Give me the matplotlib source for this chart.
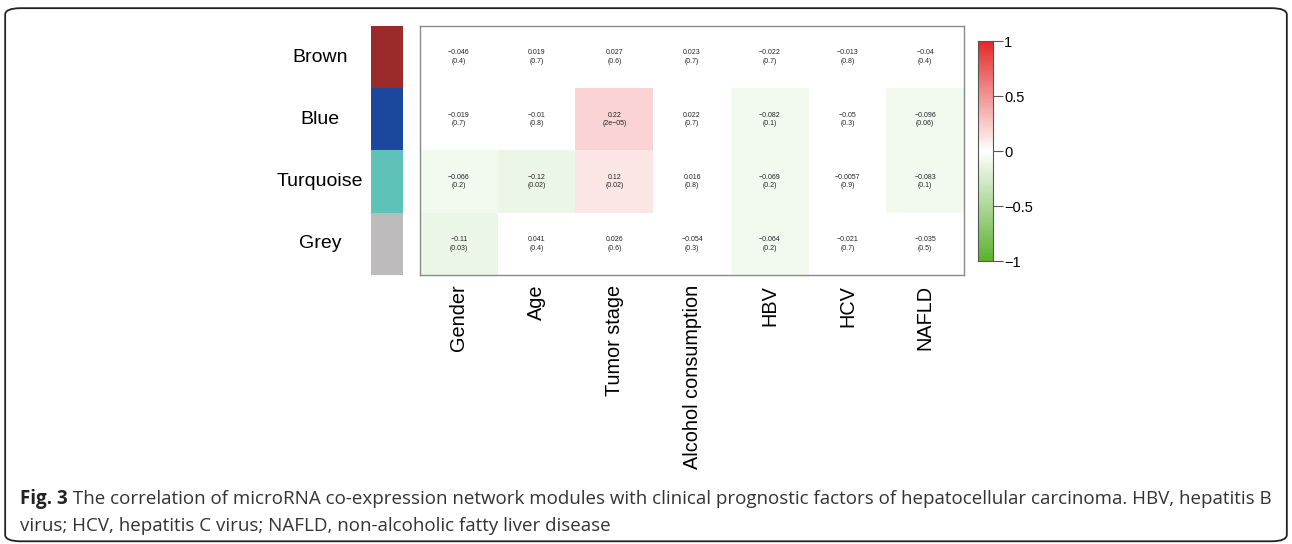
import numpy as np
import matplotlib
matplotlib.use("Agg")
import matplotlib.pyplot as plt
from matplotlib.colors import LinearSegmentedColormap, ListedColormap, BoundaryNorm
from matplotlib.patches import FancyBboxPatch

# Module-trait correlations (rows: modules, cols: clinical traits)
modules = ["Brown", "Blue", "Turquoise", "Grey"]
module_colors = ["#9b2b2b", "#1b479c", "#5ec2b8", "#bdbbbc"]
traits = ["Gender", "Age", "Tumor stage", "Alcohol consumption", "HBV", "HCV", "NAFLD"]

cor = [
    [-0.046, 0.019, 0.027, 0.023, -0.022, -0.013, -0.04],
    [-0.019, -0.01, 0.22, 0.022, -0.082, -0.05, -0.096],
    [-0.066, -0.12, 0.12, 0.016, -0.069, -0.0057, -0.083],
    [-0.11, 0.041, 0.026, -0.054, -0.064, -0.021, -0.035],
]
pvals = [
    ["0.4", "0.7", "0.6", "0.7", "0.7", "0.8", "0.4"],
    ["0.7", "0.8", "2e\u221205", "0.7", "0.1", "0.3", "0.06"],
    ["0.2", "0.02", "0.02", "0.8", "0.2", "0.9", "0.1"],
    ["0.03", "0.4", "0.6", "0.3", "0.2", "0.7", "0.5"],
]

caption_bold = "Fig. 3"
caption_1 = (" The correlation of microRNA co-expression network modules with clinical "
             "prognostic factors of hepatocellular carcinoma. HBV, hepatitis B")
caption_2 = "virus; HCV, hepatitis C virus; NAFLD, non-alcoholic fatty liver disease"

plt.rcParams["font.family"] = ["Liberation Sans", "DejaVu Sans"]

# green - white - red scale; cells use binned colours (step 0.04, white around zero)
base = LinearSegmentedColormap.from_list("gwr", ["#5cb131", "#ffffff", "#e52a2a"], N=256)
edges = np.concatenate([[-1.0], np.arange(-0.98, 0.99, 0.04), [1.0]])
centers = (edges[:-1] + edges[1:]) / 2
bin_colors = [(1, 1, 1, 1) if abs(c) < 0.05 else base((c + 1) / 2) for c in centers]
cell_cmap = ListedColormap(bin_colors)
cell_norm = BoundaryNorm(edges, cell_cmap.N)

fig = plt.figure(figsize=(12.92, 5.44), dpi=100)

# heatmap
ax = fig.add_axes([0.3251, 0.4945, 0.4211, 0.4577])
data = np.array(cor)
ax.pcolormesh(data, cmap=cell_cmap, norm=cell_norm)
ax.set_xlim(0, len(traits))
ax.set_ylim(len(modules), 0)
for i in range(len(modules)):
    for j in range(len(traits)):
        ax.text(j + 0.5, i + 0.5, f"{cor[i][j]:g}".replace("-", "\u2212") + f"\n({pvals[i][j]})",
                ha="center", va="center", fontsize=5, color="#222222", linespacing=1.3)
ax.set_xticks(np.arange(len(traits)) + 0.5)
ax.set_xticklabels(traits, rotation=90, fontsize=14.3)
ax.tick_params(axis="x", length=0, pad=7)
ax.set_yticks([])
for s in ax.spines.values():
    s.set_color("#8a8a8a")
    s.set_linewidth(1.0)

# module color strip
ax_m = fig.add_axes([0.2872, 0.4945, 0.0248, 0.4577])
ax_m.pcolormesh(np.arange(len(modules)).reshape(-1, 1),
                cmap=ListedColormap(module_colors), vmin=-0.5, vmax=len(modules) - 0.5)
ax_m.set_ylim(len(modules), 0)
ax_m.set_xticks([])
ax_m.set_yticks([])
for s in ax_m.spines.values():
    s.set_visible(False)
for i, name in enumerate(modules):
    ax_m.text(-1.6, i + 0.5, name, transform=ax_m.get_yaxis_transform(),
              ha="center", va="center", fontsize=14)

# colorbar
ax_c = fig.add_axes([0.757, 0.5202, 0.0114, 0.4044])
grad = np.linspace(-1, 1, 200).reshape(-1, 1)
ax_c.pcolormesh([0, 1], np.linspace(-1, 1, 201), grad, cmap=base, vmin=-1, vmax=1)
ax_c.set_ylim(-1, 1)
ax_c.set_xticks([])
ax_c.yaxis.tick_right()
ax_c.set_yticks([1, 0.5, 0, -0.5, -1])
ax_c.set_yticklabels(["1", "0.5", "0", "\u22120.5", "\u22121"], fontsize=10.5)
ax_c.tick_params(axis="y", length=7, width=0.8, color="#555555", pad=1)
for s in ax_c.spines.values():
    s.set_color("#555555")
    s.set_linewidth(0.8)

# caption
cap_font = ["Open Sans", "DejaVu Sans"]
cap_size = 13.5
t = fig.text(0.0155, 0.0735, caption_bold, fontsize=cap_size, fontweight="bold",
             family=cap_font, color="#222222", va="baseline")
fig.canvas.draw()
bb = t.get_window_extent()
fig.text(bb.x1 / fig.bbox.width, 0.0735, caption_1, fontsize=cap_size, family=cap_font,
         color="#333333", va="baseline")
fig.text(0.0155, 0.024, caption_2, fontsize=cap_size, family=cap_font,
         color="#333333", va="baseline")

# outer frame
frame = FancyBboxPatch((0.004, 0.005), 0.992, 0.98, transform=fig.transFigure,
                       boxstyle="round,pad=0,rounding_size=0.012",
                       fill=False, edgecolor="#222222", linewidth=1.3)
fig.patches.append(frame)

fig.savefig("out.png", dpi=100)
